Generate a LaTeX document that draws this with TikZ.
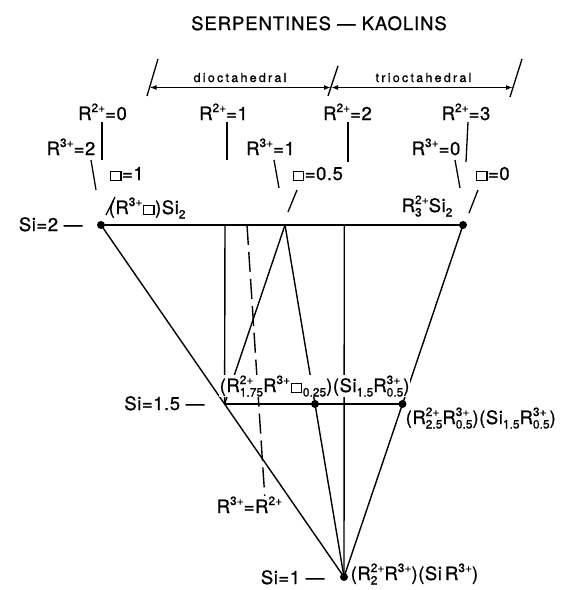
\documentclass[tikz,border=0pt]{standalone}
\usepackage{fontspec}
\setmainfont{TeX Gyre Heros}[LetterSpace=3, FakeBold=0.8]
\usetikzlibrary{arrows.meta}
\newcommand\scr{\fontsize{12}{12}\selectfont\addfontfeature{LetterSpace=0}}
\newcommand\up[1]{\raisebox{8pt}{\scr #1}}
\newcommand\dn[1]{\raisebox{-4.5pt}{\scr #1}}
\newcommand\ud[2]{{\scr\setbox0=\hbox{#1}\setbox2=\hbox{#2}%
  \dimen0=\wd0 \ifdim\wd2>\dimen0 \dimen0=\wd2 \fi
  \rlap{\raisebox{8pt}{\box0}}\raisebox{-4.5pt}{\hbox to\dimen0{\box2\hss}}}}
\newcommand\vac{{\setlength\fboxsep{0pt}\setlength\fboxrule{1.4pt}\kern0.5pt\fbox{\rule{0pt}{0.42em}\rule{0.48em}{0pt}}\kern0.5pt}}
\tikzset{
  ln/.style={line width=1.4pt},
  lead/.style={line width=1.3pt},
  arr/.style={line width=1.7pt,{Latex[length=7pt,width=5pt]}-{Latex[length=7pt,width=5pt]}},
  lbl/.style={font=\fontsize{18.5}{21}\selectfont, inner sep=0.5pt},
  mask/.style={lbl, fill=white},
  small/.style={font=\fontsize{12.5}{14}\selectfont\addfontfeature{LetterSpace=18}, inner sep=0pt},
  ttl/.style={font=\fontsize{18.5}{21}\selectfont\addfontfeature{LetterSpace=5}, inner sep=0pt},
  dot/.style={circle, fill=black, inner sep=0pt, minimum size=8pt}
}
\begin{document}
\begin{tikzpicture}[x=1pt,y=-1pt]
\path[use as bounding box, fill=white] (0,0) rectangle (562,590);
% main points
\coordinate (A) at (101,225);
\coordinate (B) at (463,225);
\coordinate (C) at (344,577);
\coordinate (P) at (224.6,404);
\coordinate (D1) at (315,404);
\coordinate (D2) at (402.5,404);
\coordinate (V) at (285,225);
\coordinate (T225) at (225,225);
\coordinate (T247) at (247,225);
\coordinate (T344) at (344.3,225);
\coordinate (Q) at (265,500);
% lines
\draw[ln] (A) -- (B);
\draw[ln] (A) -- (C);
\draw[ln] (B) -- (C);
\draw[ln] (P) -- (D2);
\draw[ln] (C) -- (V);
\draw[ln] (V) -- (P);
\draw[ln] (T225) -- (P);
\draw[ln] (T344) -- (C);
\draw[ln, dash pattern=on 20pt off 7pt] (T247) -- (Q);
% top dimension arrows
\coordinate (L1) at (147,96);  \coordinate (L2) at (158,59);
\coordinate (M1) at (328,96);  \coordinate (M2) at (338,66);
\coordinate (R1) at (510,97);  \coordinate (R2) at (522,59);
\coordinate (aL) at (149.5,87.5); \coordinate (aM) at (331,87.5); \coordinate (aR) at (513,87.5);
\draw[lead] (L1) -- (L2);
\draw[lead] (M1) -- (M2);
\draw[lead] (R1) -- (R2);
\draw[arr] (aL) -- (aM);
\draw[arr] (aM) -- (aR);
% leader lines
\draw[lead] (102,122) -- (102,160);
\draw[lead] (91,160) -- (96,190);
\draw[lead] (115,197) -- (106,215);
\draw[lead] (227,122) -- (227,160);
\draw[lead] (274,160) -- (279,188);
\draw[lead] (297,190) -- (288,212);
\draw[lead] (348,122) -- (348,162);
\draw[lead] (468,122) -- (466,162);
\draw[lead] (455,160) -- (460,188);
\draw[lead] (478,190) -- (469,213);
% texts
\node[ttl, anchor=base] (title) at (319,30) {SERPENTINES — KAOLINS};
\node[small, anchor=base] (dio) at (240,82) {dioctahedral};
\node[small, anchor=base] (tri) at (423.5,82) {trioctahedral};
\node[lbl, anchor=base] (r20) at (102.5,120) {R\up{2+}=0};
\node[lbl, anchor=base] (r21) at (223.5,120) {R\up{2+}=1};
\node[lbl, anchor=base] (r22) at (347.5,120) {R\up{2+}=2};
\node[lbl, anchor=base] (r23) at (466,120) {R\up{2+}=3};
\node[lbl, anchor=base] (r32) at (71,155) {R\up{3+}=2};
\node[lbl, anchor=base] (r31) at (270.5,155) {R\up{3+}=1};
\node[lbl, anchor=base] (r30) at (436,155) {R\up{3+}=0};
\node[lbl, anchor=base] (v1) at (126.5,180) {\vac=1};
\node[lbl, anchor=base] (v05) at (317.5,180) {\vac=0.5};
\node[lbl, anchor=base] (v0) at (492.5,180) {\vac=0};
\node[lbl, anchor=base west] (ea) at (108,214) {(R\up{3+}\vac)Si\dn{2}};
\node[lbl, anchor=base west] (eb) at (401,212) {R\ud{2+}{3}Si\dn{2}};
\node[mask, anchor=base west] (ec) at (219,392) {(R\ud{2+}{1.75}R\up{3+}\vac\dn{0.25})(Si\dn{1.5}R\ud{3+}{0.5})};
\node[mask, anchor=base west] (ed) at (405,424) {(R\ud{2+}{2.5}R\ud{3+}{0.5})(Si\dn{1.5}R\ud{3+}{0.5})};
\node[mask, anchor=base west] (ee) at (350,580) {(R\ud{2+}{2}R\up{3+})(Si\,R\up{3+})};
\node[mask, anchor=base west] (ef) at (216,513) {R\up{3+}=R\up{2+}};
\node[lbl, anchor=base east] (si2) at (83,231) {Si=2 —};
\node[lbl, anchor=base east] (si15) at (205,410) {Si=1.5 —};
\node[lbl, anchor=base east] (si1) at (325,584) {Si=1 —};
% dots
\node[dot] at (A) {};
\node[dot] at (B) {};
\node[dot] at (C) {};
\node[dot] at (D1) {};
\node[dot] at (D2) {};
\end{tikzpicture}
\end{document}
